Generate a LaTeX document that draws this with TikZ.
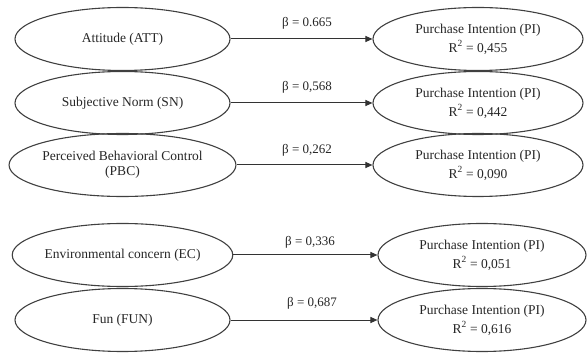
\documentclass[tikz,border=0pt]{standalone}
\usepackage{fontspec}
\setmainfont{Liberation Serif}
\usetikzlibrary{shapes.geometric,arrows.meta}
\begin{document}
\begin{tikzpicture}[x=1pt,y=1pt,
  lat/.style={ellipse,draw=black!75,line width=1.1pt,inner sep=0pt,
    minimum width=215pt,minimum height=63pt,
    font=\fontsize{13.5}{15}\selectfont,align=center,text=black!85},
  pinode/.style={lat,minimum width=210pt,font=\fontsize{13.5}{19}\selectfont},
  pathline/.style={draw=black!80,line width=1pt,-{Triangle[length=7pt,width=6pt]}},
  coef/.style={font=\fontsize{13}{15}\selectfont,text=black!85,inner sep=0pt}]
\useasboundingbox (0,0) rectangle (588,353);
% left constructs
\node[lat] (att) at (122.5,314) {Attitude (ATT)};
\node[lat] (sn)  at (122.5,250) {Subjective Norm (SN)};
\node[lat] (pbc) at (122.5,188) {Perceived Behavioral Control\\(PBC)};
\node[lat] (ec)  at (122.5,98)  {Environmental concern (EC)};
\node[lat] (fun) at (122.5,33)  {Fun (FUN)};
% right constructs
\node[pinode] (pi1) at (478,314) {Purchase Intention (PI)\\R\textsuperscript{2} = 0,455};
\node[pinode] (pi2) at (478,250) {Purchase Intention (PI)\\R\textsuperscript{2} = 0,442};
\node[pinode] (pi3) at (478,188) {Purchase Intention (PI)\\R\textsuperscript{2} = 0,090};
\node[pinode,minimum width=208pt] (pi4) at (482,98) {Purchase Intention (PI)\\R\textsuperscript{2} = 0,051};
\node[pinode,minimum width=208pt] (pi5) at (482,33) {Purchase Intention (PI)\\R\textsuperscript{2} = 0,616};
% paths
\draw[pathline] (att) -- (pi1);
\draw[pathline] (sn) -- (pi2);
\draw[pathline] (pbc) -- (pi3);
\draw[pathline] (ec) -- (pi4);
\draw[pathline] (fun) -- (pi5);
% coefficients
\node[coef] (b1) at (307,330) {β = 0.665};
\node[coef] (b2) at (307,266) {β = 0,568};
\node[coef] (b3) at (307,203) {β = 0,262};
\node[coef] (b4) at (310,111) {β = 0,336};
\node[coef] (b5) at (312,50)  {β = 0,687};
\end{tikzpicture}
\end{document}
